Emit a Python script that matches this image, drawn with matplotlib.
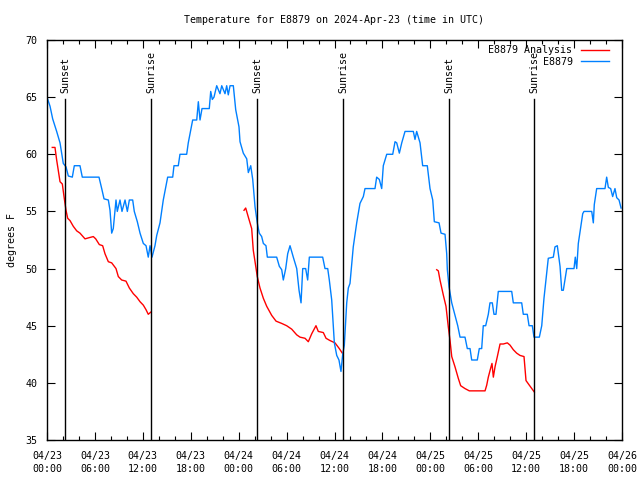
import matplotlib
matplotlib.use("Agg")
import matplotlib.pyplot as plt
import matplotlib.dates as mdates
import numpy as np
from datetime import datetime, timedelta

start = datetime(2024, 4, 23, 0, 0)

# Observed temperature (hours since 04/23 00:00 UTC, degrees F)
obs_hours = [0.0, 0.38, 0.71, 1.21, 1.63, 2.04, 2.38, 2.67, 3.17, 3.42, 4.13, 4.42, 6.51, 6.85,
             7.14, 7.68, 7.89, 8.10, 8.30, 8.64, 8.80, 9.14, 9.39, 9.77, 10.06, 10.31, 10.73,
             10.93, 11.31, 11.65, 12.06, 12.40, 12.68, 12.90, 13.15, 13.52, 13.74, 14.15, 14.56,
             15.11, 15.74, 15.90, 16.44, 16.65, 17.49, 17.69, 18.24, 18.75, 18.95, 19.16, 19.41,
             20.32, 20.50, 20.70, 20.91, 21.25, 21.66, 21.88, 22.29, 22.50, 22.70, 22.92, 23.33,
             23.63, 24.04, 24.17, 24.58, 25.01, 25.21, 25.51, 25.76, 26.05, 26.33, 26.58, 26.88,
             27.09, 27.42, 27.59, 28.76, 29.09, 29.39, 29.59, 29.89, 30.14, 30.43, 30.84, 31.27,
             31.56, 31.81, 32.02, 32.39, 32.64, 32.85, 34.52, 34.81, 35.15, 35.35, 35.65, 35.98,
             36.28, 36.56, 36.81, 37.03, 37.23, 37.53, 37.73, 37.94, 38.35, 38.78, 39.19, 39.61,
             39.82, 41.07, 41.28, 41.61, 41.91, 42.11, 42.54, 43.29, 43.58, 43.79, 44.12, 44.42,
             44.83, 45.87, 46.08, 46.29, 46.71, 47.04, 47.62, 47.96, 48.30, 48.50, 49.09, 49.34,
             49.84, 50.05, 50.13, 50.34, 50.68, 51.09, 51.43, 51.72, 52.34, 52.63, 52.97, 53.18,
             53.88, 54.13, 54.43, 54.63, 54.93, 55.26, 55.47, 55.76, 55.97, 56.22, 56.51, 58.19,
             58.39, 59.44, 59.64, 60.14, 60.36, 60.77, 60.98, 61.65, 61.95, 62.23, 62.48, 62.77,
             63.40, 63.61, 63.90, 64.24, 64.45, 64.65, 64.86, 65.08, 65.99, 66.15, 66.33, 66.53,
             66.74, 67.08, 67.24, 68.21, 68.41, 68.53, 68.83, 69.87, 70.08, 70.29, 70.58, 70.83,
             71.12, 71.34, 71.63, 71.88]
obs_temp = [65.0, 64.2, 63.1, 62.0, 61.0, 59.2, 58.9, 58.1, 58.0, 59.0, 59.0, 58.0, 58.0, 57.0,
            56.1, 56.0, 55.1, 53.1, 53.5, 56.0, 55.0, 56.0, 55.0, 56.0, 55.0, 56.0, 56.0,
            55.0, 54.1, 53.1, 52.2, 52.0, 51.0, 52.0, 51.0, 52.0, 52.9, 54.0, 56.0,
            58.0, 58.0, 59.0, 59.0, 60.0, 60.0, 61.0, 63.0, 63.0, 64.6, 63.0, 64.0,
            64.0, 65.5, 64.8, 65.0, 66.0, 65.3, 66.0, 65.3, 66.0, 65.2, 66.0, 66.0,
            63.9, 62.4, 61.1, 60.1, 59.6, 58.4, 59.0, 57.8, 55.4, 54.0, 53.1, 52.8,
            52.2, 52.0, 51.0, 51.0, 50.2, 49.9, 49.0, 50.0, 51.3, 52.0, 51.0, 50.0,
            48.1, 47.0, 50.0, 50.0, 49.0, 51.0, 51.0, 50.0, 50.0, 49.0, 47.25, 43.5,
            42.4, 42.0, 41.0, 42.5, 43.3, 47.0, 48.3, 48.7, 51.9, 54.0, 55.7, 56.3,
            57.0, 57.0, 58.0, 57.8, 57.0, 59.0, 60.0, 60.0, 61.1, 61.0, 60.1, 61.0,
            62.0, 62.0, 61.3, 62.0, 61.0, 59.0, 59.0, 57.0, 56.0, 54.1, 54.0, 53.1,
            53.0, 51.3, 49.9, 48.4, 47.0, 45.9, 45.0, 44.0, 44.0, 43.0, 43.0, 42.0,
            42.0, 43.0, 43.0, 45.0, 45.0, 46.0, 47.0, 47.0, 46.0, 46.0, 48.0, 48.0,
            47.0, 47.0, 46.0, 46.0, 45.0, 45.0, 44.0, 44.0, 45.0, 47.4, 49.0, 50.9,
            51.0, 51.9, 52.0, 50.2, 48.1, 48.1, 49.0, 50.0, 50.0, 51.0, 50.0, 52.2,
            53.2, 54.8, 55.0, 55.0, 54.0, 55.6, 57.0, 57.0, 58.0, 57.1, 57.0, 56.3,
            57.0, 56.2, 56.0, 55.3]

# Analysis temperature (three nightly segments)
ana_hours_1 = [0.66, 1.00, 1.21, 1.41, 1.63, 1.92, 2.13, 2.38, 2.59, 2.88, 3.29, 3.72, 4.13,
               4.76, 5.26, 5.80, 6.10, 6.55, 6.97, 7.26, 7.68, 8.10, 8.64, 8.93, 9.35, 9.89,
               10.31, 10.81, 11.23, 11.65, 12.06, 12.40, 12.68, 13.02]
ana_temp_1 = [60.6, 60.6, 59.5, 58.6, 57.6, 57.4, 56.3, 55.1, 54.4, 54.2, 53.7, 53.3, 53.1,
              52.6, 52.7, 52.8, 52.6, 52.1, 52.0, 51.3, 50.6, 50.5, 50.0, 49.3, 49.0, 48.9,
              48.3, 47.8, 47.5, 47.1, 46.8, 46.4, 46.0, 46.2]
ana_hours_2 = [24.67, 24.88, 25.21, 25.63, 25.83, 26.05, 26.33, 26.67, 27.09, 27.51, 28.14,
               28.68, 29.39, 30.01, 30.64, 31.27, 31.68, 32.31, 32.72, 33.15, 33.68, 33.97,
               34.60, 34.94, 35.44, 36.06, 36.60, 36.98]
ana_temp_2 = [55.1, 55.3, 54.5, 53.5, 51.6, 50.6, 49.3, 48.3, 47.4, 46.7, 45.9,
              45.4, 45.2, 45.0, 44.7, 44.2, 44.0, 43.9, 43.6, 44.3, 45.0, 44.5,
              44.4, 43.9, 43.7, 43.5, 43.0, 42.6]
ana_hours_3 = [48.80, 49.00, 49.21, 49.62, 49.96, 50.25, 50.46, 50.68, 51.09, 51.50, 51.80,
               52.34, 52.88, 54.85, 55.06, 55.26, 55.56, 55.72, 55.89, 56.10, 56.39, 56.73,
               57.14, 57.64, 57.98, 58.39, 58.81, 59.23, 59.73, 59.98, 60.39, 61.02]
ana_temp_3 = [49.9, 49.8, 49.0, 47.7, 46.7, 44.9, 43.75, 42.3, 41.4, 40.4, 39.75,
              39.5, 39.3, 39.3, 39.8, 40.5, 41.3, 41.7, 40.5, 41.4, 42.3, 43.4,
              43.4, 43.5, 43.3, 42.9, 42.6, 42.4, 42.3, 40.2, 39.8, 39.2]

# Sun events
event_labels = ["Sunset", "Sunrise", "Sunset", "Sunrise", "Sunset", "Sunrise"]
event_times = ["2024-04-23 02:17", "2024-04-23 13:04", "2024-04-24 02:19",
               "2024-04-24 13:05", "2024-04-25 02:21", "2024-04-25 13:02"]

title = "Temperature for E8879 on 2024-Apr-23 (time in UTC)"
ylabel = "degrees F"


def to_dt(hours):
    return [start + timedelta(hours=h) for h in hours]


ana_hours = ana_hours_1 + [np.nan] + ana_hours_2 + [np.nan] + ana_hours_3
ana_temp = ana_temp_1 + [np.nan] + ana_temp_2 + [np.nan] + ana_temp_3
ana_x = [mdates.date2num(start + timedelta(hours=h)) if not np.isnan(h) else np.nan
         for h in ana_hours]

FS = 7.2
plt.rcParams['font.family'] = ['DejaVu Sans Mono']
plt.rcParams['font.size'] = FS

fig = plt.figure(figsize=(6.4, 4.8), dpi=100)
ax = fig.add_axes([47 / 640, 40 / 480, 575 / 640, 400 / 480])

ax.plot(ana_x, ana_temp, color='#ff0000', lw=1.0, label='E8879 Analysis')
ax.plot(to_dt(obs_hours), obs_temp, color='#0080ff', lw=1.0, label='E8879')

for lab, t in zip(event_labels, event_times):
    d = datetime.strptime(t, "%Y-%m-%d %H:%M")
    ax.axvline(d, ymin=0, ymax=0.852, color='black', lw=1.0)
    ax.text(d, 0.868, lab, transform=ax.get_xaxis_transform(), rotation=90,
            ha='center', va='bottom', fontsize=FS)

ax.set_xlim(start, start + timedelta(hours=72))
ax.set_ylim(35, 70)
ax.set_yticks(np.arange(35, 71, 5))
ax.xaxis.set_major_locator(mdates.HourLocator(byhour=[0, 6, 12, 18]))
ax.xaxis.set_minor_locator(mdates.HourLocator(byhour=range(0, 24, 2)))
ax.xaxis.set_major_formatter(mdates.DateFormatter("%m/%d\n%H:%M"))
ax.tick_params(axis='both', which='both', direction='in', top=True, right=True)
ax.tick_params(axis='both', which='major', length=6, width=0.8, labelsize=FS)
ax.tick_params(axis='x', which='minor', length=3, width=0.8)
ax.tick_params(axis='x', pad=8)
ax.tick_params(axis='y', pad=7)
for lbl in ax.get_xticklabels():
    lbl.set_linespacing(1.35)
for s in ax.spines.values():
    s.set_linewidth(1.0)

ax.set_title(title, fontsize=FS, pad=12)
ax.set_ylabel(ylabel, fontsize=FS, labelpad=6)

leg = ax.legend(loc='upper right', bbox_to_anchor=(1 - 8 / 575, 1.0), frameon=False,
                fontsize=FS, handlelength=2.8, markerfirst=False, borderaxespad=0.15,
                handletextpad=0.8, labelspacing=0.15)
for t in leg.get_texts():
    t.set_ha('right')

fig.savefig("out.png", dpi=100)
